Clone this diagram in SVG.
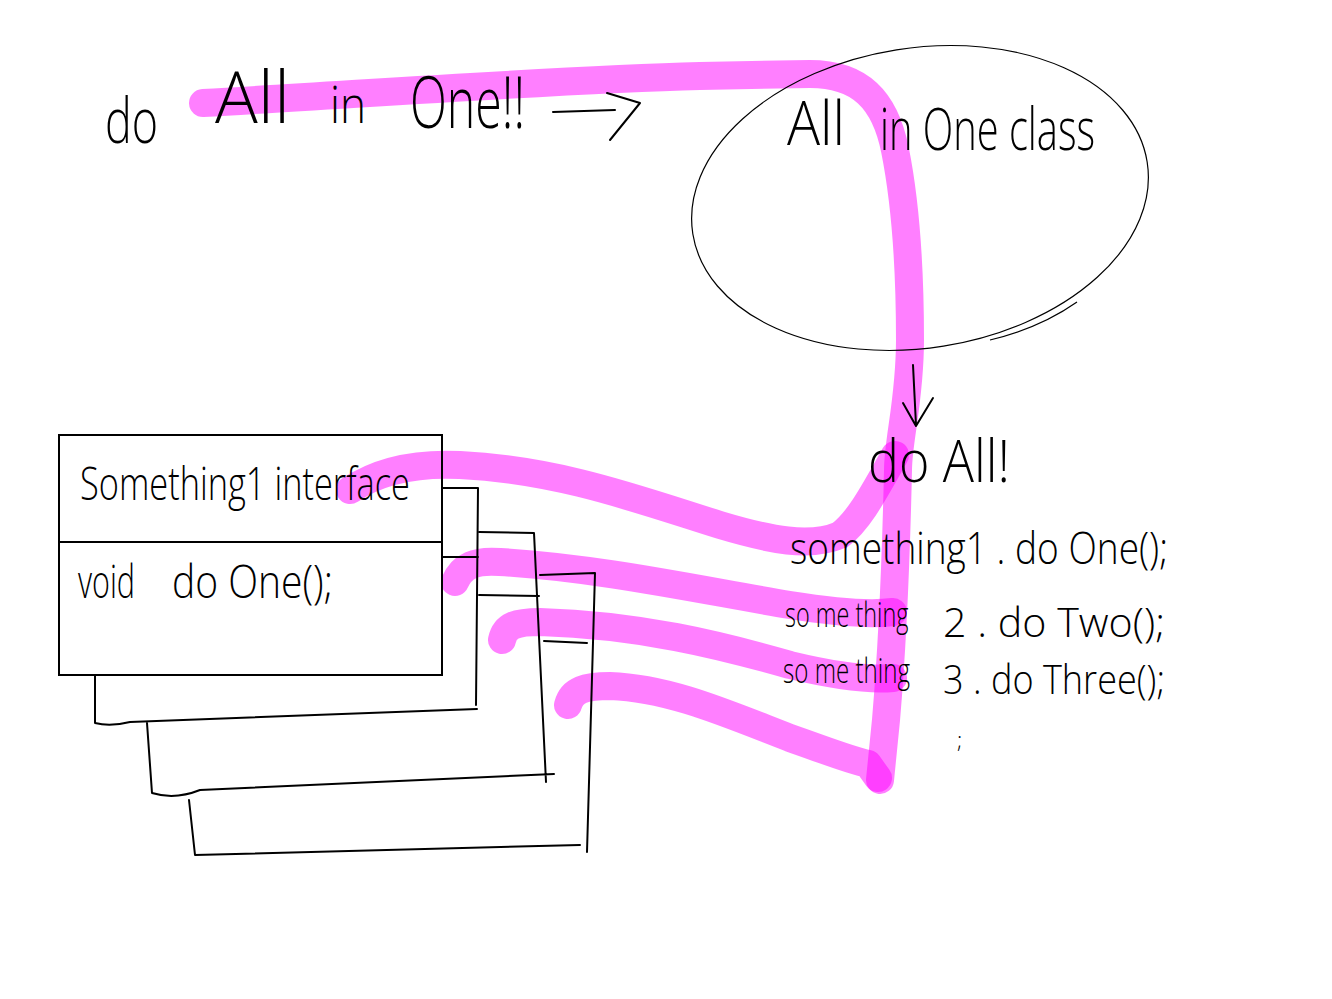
<svg xmlns="http://www.w3.org/2000/svg" width="1332" height="999" viewBox="0 0 1332 999">
<style>
.t{font-family:"Open Sans","Liberation Sans",sans-serif;font-weight:300;fill:#000}
.ink{fill:none;stroke:#000;stroke-width:2;stroke-linecap:round;stroke-linejoin:round}
.thin{fill:none;stroke:#000;stroke-width:1.2}
.hl{fill:none;stroke:#ff00ff;stroke-opacity:0.5;stroke-width:28;stroke-linecap:round;stroke-linejoin:round}
</style>
<rect width="1332" height="999" fill="#fff"/>
<g id="connectors">
<path class="hl" d="M203,103 C350,95 550,80 700,76 L810,74 C860,74 885,100 895,150 C905,200 910,260 910,340 C910,400 898,440 898,470 C896,560 892,650 886,720 L880,780"/>
<path class="hl" d="M350,490 C380,470 420,463 460,465 C560,470 640,500 720,525 C770,540 810,548 840,535 C860,520 875,490 895,455"/>
<path class="hl" d="M455,582 C462,566 475,560 500,562 C600,568 700,590 790,605 C840,613 870,615 893,612"/>
<path class="hl" d="M502,640 C505,626 515,622 540,622 C640,625 720,645 790,665 C840,677 870,680 893,678"/>
<path class="hl" d="M568,705 C572,690 585,686 610,686 C670,688 730,715 790,738 C830,752 850,760 868,764 L878,778"/>
<path class="ink" d="M553,112 L615,110 M607,93 L640,103 L610,140"/>
<path class="ink" d="M913,365 L916,425 M903,403 L916,426 L933,398"/>
</g>
<g id="title">
<text class="t" x="105" y="143" font-size="62" textLength="53" lengthAdjust="spacingAndGlyphs">do</text>
<text class="t" x="215" y="123" font-size="72" textLength="75" lengthAdjust="spacingAndGlyphs">All</text>
<text class="t" x="330" y="123" font-size="52" textLength="36" lengthAdjust="spacingAndGlyphs">in</text>
<text class="t" x="410" y="128" font-size="72" textLength="115" lengthAdjust="spacingAndGlyphs">One!!</text>
</g>
<g id="all-in-one-class">
<ellipse class="thin" cx="920" cy="198" rx="230" ry="150" transform="rotate(-9 920 198)"/>
<path class="thin" d="M990,340 Q1040,328 1077,302"/>
<text class="t" x="787" y="145" font-size="60" textLength="58" lengthAdjust="spacingAndGlyphs">All</text>
<text class="t" x="880" y="150" font-size="58" textLength="215" lengthAdjust="spacingAndGlyphs">in One class</text>
</g>
<g id="do-all">
<text class="t" x="868" y="482" font-size="58" textLength="142" lengthAdjust="spacingAndGlyphs">do All!</text>
<text class="t" x="790" y="564" font-size="44" textLength="378" lengthAdjust="spacingAndGlyphs">something1 . do One();</text>
<text class="t" transform="translate(785,627) scale(0.69,1)" font-size="34">so me thing</text>
<text class="t" x="943" y="637" font-size="40" textLength="222" lengthAdjust="spacingAndGlyphs">2 . do Two();</text>
<text class="t" transform="translate(783,683) scale(0.71,1)" font-size="34">so me thing</text>
<text class="t" x="943" y="694" font-size="40" textLength="222" lengthAdjust="spacingAndGlyphs">3 . do Three();</text>
<text class="t" x="957" y="748" font-size="22">;</text>
</g>
<g id="interface-stack">
<path class="ink" d="M540,575 L595,573 L587,852 M544,641 L587,643 M189,800 L195,855 L580,845"/>
<path class="ink" d="M479,532 L534,533 L546,782 M479,595 L539,596 M147,723 L152,793 Q175,800 200,790 L554,774"/>
<path class="ink" d="M443,488 L478,488 L476,705 M443,557 L478,557 M95,675 L95,723 Q110,727 130,722 L477,709"/>
<rect x="59" y="435" width="383" height="240" fill="none" stroke="#000" stroke-width="2"/>
<line x1="59" y1="542" x2="442" y2="542" stroke="#000" stroke-width="2"/>
<text class="t" x="80" y="500" font-size="46" textLength="330" lengthAdjust="spacingAndGlyphs">Something1 interface</text>
<text class="t" x="78" y="598" font-size="46" textLength="57" lengthAdjust="spacingAndGlyphs">void</text>
<text class="t" x="172" y="598" font-size="46" textLength="161" lengthAdjust="spacingAndGlyphs">do One();</text>
</g>
</svg>
